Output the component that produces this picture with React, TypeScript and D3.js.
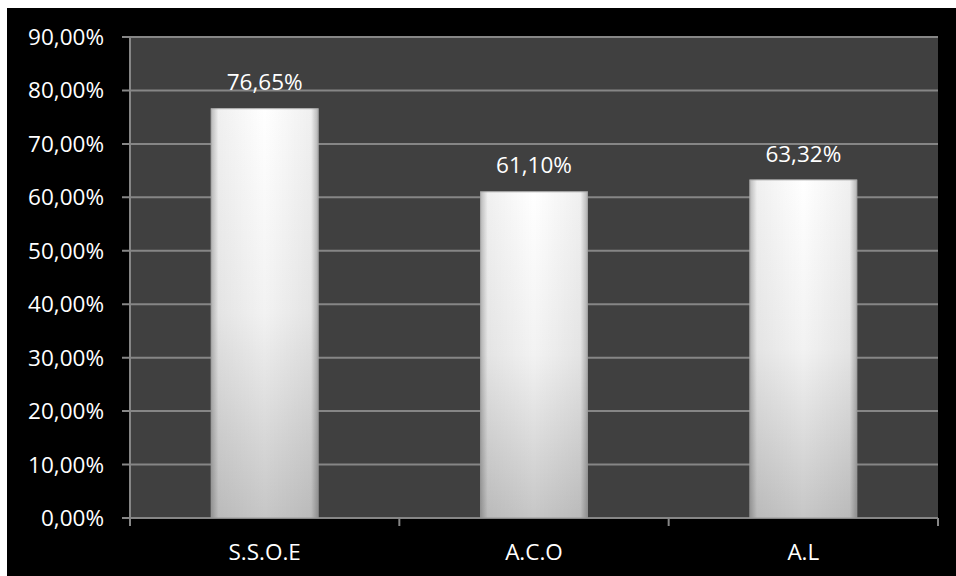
import React from "react";
import * as d3 from "d3";

const categories = ["S.S.O.E", "A.C.O", "A.L"];
const values = [76.65, 61.1, 63.32];
const valueLabels = ["76,65%", "61,10%", "63,32%"];
const yTicks = [0, 10, 20, 30, 40, 50, 60, 70, 80, 90];

const W = 956;
const H = 576;
const plot = { left: 130, right: 938, top: 37, bottom: 518 };
const font = "'Open Sans', 'Noto Sans', sans-serif";
const fs = 22.5;

export default function App() {
  const x = d3
    .scaleBand<string>()
    .domain(categories)
    .range([plot.left, plot.right])
    .paddingInner(0.6)
    .paddingOuter(0.3);
  const y = d3.scaleLinear().domain([0, 90]).range([plot.bottom, plot.top]);
  const step = (plot.right - plot.left) / categories.length;
  const fmt = (v: number) => v.toFixed(2).replace(".", ",") + "%";

  return (
    <svg
      width={W}
      height={H}
      style={{ position: "absolute", left: 0, top: 0, display: "block" }}
    >
      <defs>
        <linearGradient id="vg" x1="0" y1="0" x2="0" y2="1">
          <stop offset="0" stopColor="#ffffff" />
          <stop offset="0.5" stopColor="#f2f2f2" />
          <stop offset="1" stopColor="#c6c6c6" />
        </linearGradient>
        <linearGradient id="hg" x1="0" y1="0" x2="1" y2="0">
          <stop offset="0" stopColor="#000" stopOpacity="0.28" />
          <stop offset="0.07" stopColor="#000" stopOpacity="0.06" />
          <stop offset="0.5" stopColor="#000" stopOpacity="0" />
          <stop offset="0.93" stopColor="#000" stopOpacity="0.06" />
          <stop offset="1" stopColor="#000" stopOpacity="0.3" />
        </linearGradient>
      </defs>
      <rect x={0} y={0} width={W} height={H} fill="#ffffff" />
      <rect x={7} y={8} width={W - 7} height={H - 8} fill="#000000" />
      <rect
        x={plot.left}
        y={plot.top}
        width={plot.right - plot.left}
        height={plot.bottom - plot.top}
        fill="#404040"
      />
      {yTicks.map((t) => (
        <g key={t}>
          <line
            x1={plot.left - 8}
            x2={plot.right}
            y1={y(t)}
            y2={y(t)}
            stroke="#868686"
            strokeWidth={2}
          />
          <text
            x={104}
            y={y(t) + 8}
            textAnchor="end"
            fill="#ffffff"
            fontFamily={font}
            fontSize={fs}
          >
            {fmt(t)}
          </text>
        </g>
      ))}
      <line
        x1={plot.left}
        x2={plot.left}
        y1={plot.top}
        y2={plot.bottom}
        stroke="#868686"
        strokeWidth={2}
      />
      {d3.range(categories.length + 1).map((i) => (
        <line
          key={i}
          x1={plot.left + i * step}
          x2={plot.left + i * step}
          y1={plot.bottom}
          y2={plot.bottom + 8}
          stroke="#868686"
          strokeWidth={2}
        />
      ))}
      {categories.map((c, i) => {
        const bx = x(c)!;
        const bw = x.bandwidth();
        const by = y(values[i]);
        const bh = plot.bottom - by;
        return (
          <g key={c}>
            <rect x={bx} y={by} width={bw} height={bh} fill="url(#vg)" />
            <rect x={bx} y={by} width={bw} height={bh} fill="url(#hg)" />
            <rect
              x={bx + 0.5}
              y={by + 0.5}
              width={bw - 1}
              height={bh - 1}
              fill="none"
              stroke="#9a9a9a"
              strokeOpacity={0.5}
              strokeWidth={1}
            />
            <text
              x={bx + bw / 2}
              y={by - 18}
              textAnchor="middle"
              fill="#ffffff"
              fontFamily={font}
              fontSize={fs}
            >
              {valueLabels[i]}
            </text>
            <text
              x={bx + bw / 2}
              y={560}
              textAnchor="middle"
              fill="#ffffff"
              fontFamily={font}
              fontSize={fs}
            >
              {c}
            </text>
          </g>
        );
      })}
    </svg>
  );
}
